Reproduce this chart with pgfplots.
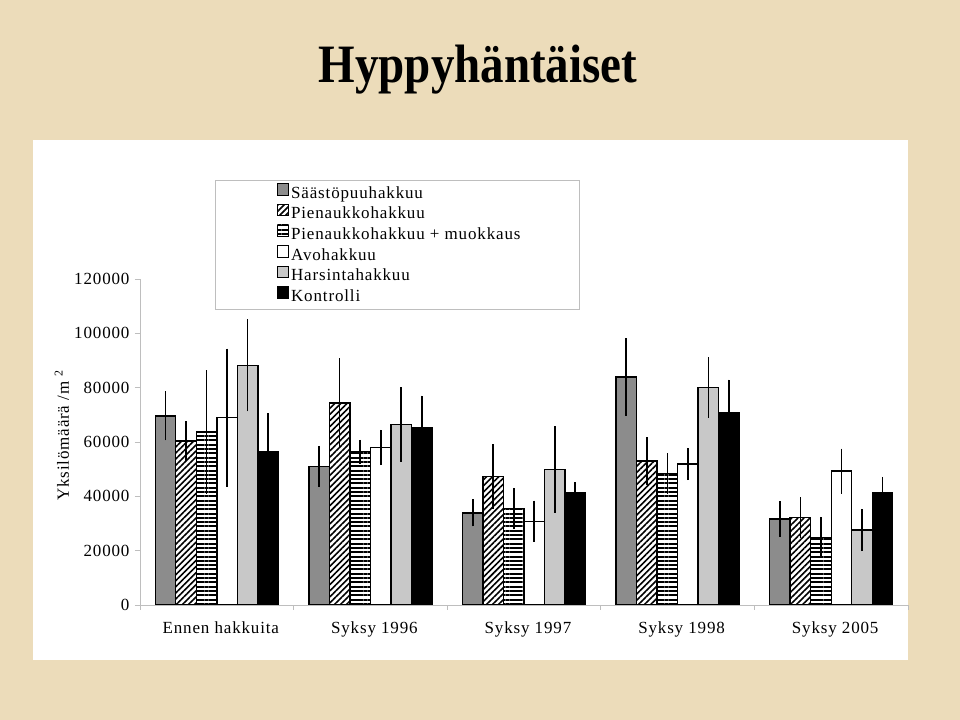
\documentclass[border=0pt]{standalone}
\usepackage{fontspec}
\setmainfont{Liberation Serif}[LetterSpace=5]
\newfontfamily\titlefont{Liberation Serif}
\usepackage{pgfplots}
\pgfplotsset{compat=1.18}
\usepackage{pgfplotstable}
\usetikzlibrary{patterns.meta}

\definecolor{bgcol}{RGB}{236,220,186}
\definecolor{gA}{RGB}{140,140,140}
\definecolor{gB}{RGB}{200,200,200}
\definecolor{axgray}{RGB}{190,190,190}

% x  y  e
\pgfplotstableread{
x y e
0 69600 9000
1 51000 7600
2 33900 5000
3 83900 14300
4 31700 6500
}\tA
\pgfplotstableread{
x y e
0 60400 7300
1 74400 16400
2 47300 11800
3 53000 8700
4 32200 7500
}\tB
\pgfplotstableread{
x y e
0 63700 22800
1 56400 4400
2 35500 7600
3 48300 7500
4 24900 7500
}\tC
\pgfplotstableread{
x y e
0 69000 25400
1 58000 6500
2 30800 7600
3 51900 5900
4 49300 8300
}\tD
\pgfplotstableread{
x y e
0 88200 16900
1 66400 13700
2 49900 15900
3 80100 11100
4 27600 7800
}\tE
\pgfplotstableread{
x y e
0 56400 14200
1 65400 11700
2 41400 3700
3 70600 12400
4 41400 5800
}\tF

\newcommand{\legtxt}[1]{\makebox[282bp][l]{#1}}

\begin{document}
\begin{tikzpicture}
\path[use as bounding box] (0,0) rectangle (960bp,720bp);
\fill[bgcol] (0,0) rectangle (960bp,720bp);
\fill[white] (33bp,60bp) rectangle (908bp,580bp);
\node[anchor=base, yscale=1.15] at (478bp,637bp) {\titlefont\fontsize{47bp}{50bp}\selectfont\bfseries Hyppyhäntäiset};
\begin{axis}[
  at={(140bp,115bp)}, anchor=south west,
  width=768bp, height=326bp, scale only axis,
  xmin=-0.5, xmax=4.5, ymin=0, ymax=120000,
  ybar=0pt, bar width=0.1335,
  axis x line*=bottom, axis y line*=left,
  axis line style={draw=axgray, line width=0.9bp},
  every tick/.style={draw=axgray, line width=0.9bp},
  tick align=outside, major tick length=5bp,
  xtick={-0.5,0.5,1.5,2.5,3.5,4.5},
  x tick label as interval,
  xticklabels={Ennen hakkuita,Syksy 1996,Syksy 1997,Syksy 1998,Syksy 2005},
  ytick={0,20000,40000,60000,80000,100000,120000},
  scaled y ticks=false,
  yticklabel style={xshift=-2bp},
  xticklabel style={yshift=-8bp, xshift=4bp},
  /pgf/number format/.cd, 1000 sep={}, fixed, assume math mode=true, /pgfplots/.cd,
  tick label style={font=\fontsize{17bp}{20bp}\selectfont},
  ylabel={Yksilömäärä /m \textsuperscript{2}},
  ylabel style={at={(axis description cs:-0.1016,0.52)}, anchor=center, font=\fontsize{17bp}{20bp}\selectfont},
  legend style={at={(0.0977,1.3037)}, anchor=north west, draw=axgray, line width=0.9bp,
    inner xsep=4bp, inner ysep=3bp, row sep=0pt,
    font=\fontsize{17bp}{20bp}\selectfont,
    nodes={text height=12bp, text depth=4bp, inner ysep=1.6bp, inner xsep=2bp},
    /tikz/every even column/.append style={column sep=3bp}},
  legend cell align=left,
  legend image code/.code={\path (-57bp,0);\draw[#1, line width=0.9bp] (0bp,-1bp) rectangle (11.5bp,10.5bp);},
  every axis plot/.append style={draw=black, line width=1.4bp,
    error bars/y dir=both, error bars/y explicit, error bars/error mark=none,
    error bars/error bar style={line width=1.7bp, black}},
]
\addplot[fill=gA] table[x=x,y=y,y error=e] {\tA};
\addplot[pattern={Lines[angle=45,distance=4.3bp,line width=1.6bp]}] table[x=x,y=y,y error=e] {\tB};
\addplot[pattern={Lines[angle=0,distance=4.3bp,line width=2bp]}] table[x=x,y=y,y error=e] {\tC};
\addplot[fill=white] table[x=x,y=y,y error=e] {\tD};
\addplot[fill=gB] table[x=x,y=y,y error=e] {\tE};
\addplot[fill=black] table[x=x,y=y,y error=e] {\tF};
\legend{\legtxt{Säästöpuuhakkuu},\legtxt{Pienaukkohakkuu},\legtxt{Pienaukkohakkuu + muokkaus},\legtxt{Avohakkuu},\legtxt{Harsintahakkuu},\legtxt{Kontrolli}}
\end{axis}
\end{tikzpicture}
\end{document}
